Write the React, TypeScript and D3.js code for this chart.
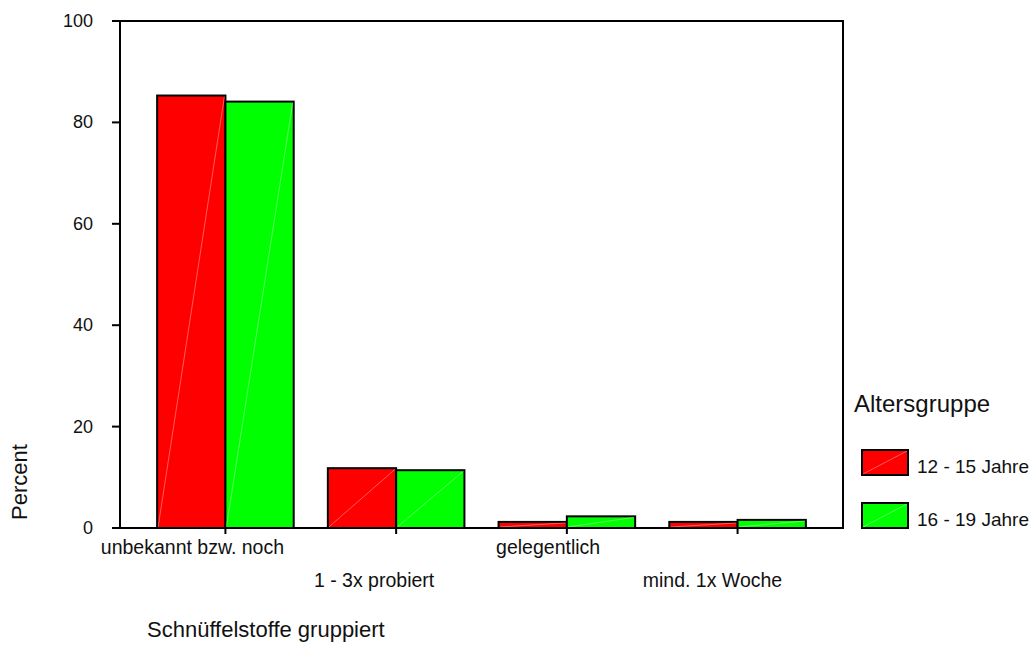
import React from "react";
import * as d3 from "d3";

const categories = ["unbekannt bzw. noch", "1 - 3x probiert", "gelegentlich", "mind. 1x Woche"];
const seriesNames = ["12 - 15 Jahre", "16 - 19 Jahre"];
const values12to15 = [85.3, 11.8, 1.2, 1.2];
const values16to19 = [84.1, 11.4, 2.3, 1.6];
const yTicks = [0, 20, 40, 60, 80, 100];
const colors = ["#ff0000", "#00ff00"];

const W = 1033;
const H = 653;
const left = 120;
const right = 843;
const top = 21;
const bottom = 528;
const FONT = "'Liberation Sans', Arial, Helvetica, sans-serif";

export default function App() {
  const x = d3.scaleBand<string>().domain(categories).range([left, right]).paddingInner(0.2).paddingOuter(0.2175);
  const xs = d3.scaleBand<string>().domain(seriesNames).range([0, x.bandwidth()]).padding(0);
  const y = d3.scaleLinear().domain([0, 100]).range([bottom, top]);
  const seriesValues = [values12to15, values16to19];

  const bars: React.ReactNode[] = [];
  categories.forEach((c, i) => {
    seriesNames.forEach((s, j) => {
      const v = seriesValues[j][i];
      const x0 = (x(c) as number) + (xs(s) as number);
      const w = xs.bandwidth();
      const y0 = y(v);
      const hgt = y(0) - y0;
      bars.push(
        <g key={`${i}-${j}`}>
          <rect x={x0} y={y0} width={w} height={hgt} fill={colors[j]} stroke="#000" strokeWidth={2} />
          <line x1={x0 + 1} y1={y(0) - 1} x2={x0 + w - 1} y2={y0 + 1} stroke="#ffffff" strokeOpacity={0.45} strokeWidth={0.8} />
        </g>
      );
    });
  });

  return (
    <svg width={W} height={H} style={{ position: "absolute", left: 0, top: 0, background: "#fff" }} fontFamily={FONT}>
      <rect x={0} y={0} width={W} height={H} fill="#fff" />
      {bars}
      {/* frame */}
      <rect x={left} y={top} width={right - left} height={bottom - top} fill="none" stroke="#000" strokeWidth={2} />
      {/* y ticks */}
      {yTicks.map((t) => (
        <g key={t}>
          <line x1={left - 8} x2={left} y1={y(t)} y2={y(t)} stroke="#000" strokeWidth={2} />
          <text x={93} y={y(t) + 6} textAnchor="end" fontSize={18} fill="#111">
            {t}
          </text>
        </g>
      ))}
      {/* x ticks & labels */}
      {categories.map((c, i) => {
        const cx = (x(c) as number) + x.bandwidth() / 2;
        const row = i % 2;
        return (
          <g key={c}>
            <line x1={cx} x2={cx} y1={bottom} y2={bottom + 6} stroke="#000" strokeWidth={2} />
            <text
              x={cx}
              y={row === 0 ? 554 : 587}
              textAnchor="start"
              fontSize={19.5}
              fill="#111"
              style={{ transformBox: "fill-box", transform: "translateX(-68%)" } as any}
            >
              {c}
            </text>
          </g>
        );
      })}
      {/* axis titles */}
      <text transform={`translate(${27},${482}) rotate(-90)`} textAnchor="middle" fontSize={22} fill="#111">
        Percent
      </text>
      <text x={147} y={637} fontSize={22} fill="#111">
        Schnüffelstoffe gruppiert
      </text>
      {/* legend */}
      <text x={854} y={412} fontSize={24} fill="#111">
        Altersgruppe
      </text>
      {seriesNames.map((s, j) => {
        const ly = 450 + j * 53;
        return (
          <g key={s}>
            <rect x={862} y={ly} width={46} height={25} fill={colors[j]} stroke="#000" strokeWidth={2} />
            <line x1={863} y1={ly + 24} x2={907} y2={ly + 1} stroke="#fff" strokeOpacity={0.45} strokeWidth={0.8} />
            <text x={917} y={ly + 23} fontSize={19} fill="#111">
              {s}
            </text>
          </g>
        );
      })}
    </svg>
  );
}
